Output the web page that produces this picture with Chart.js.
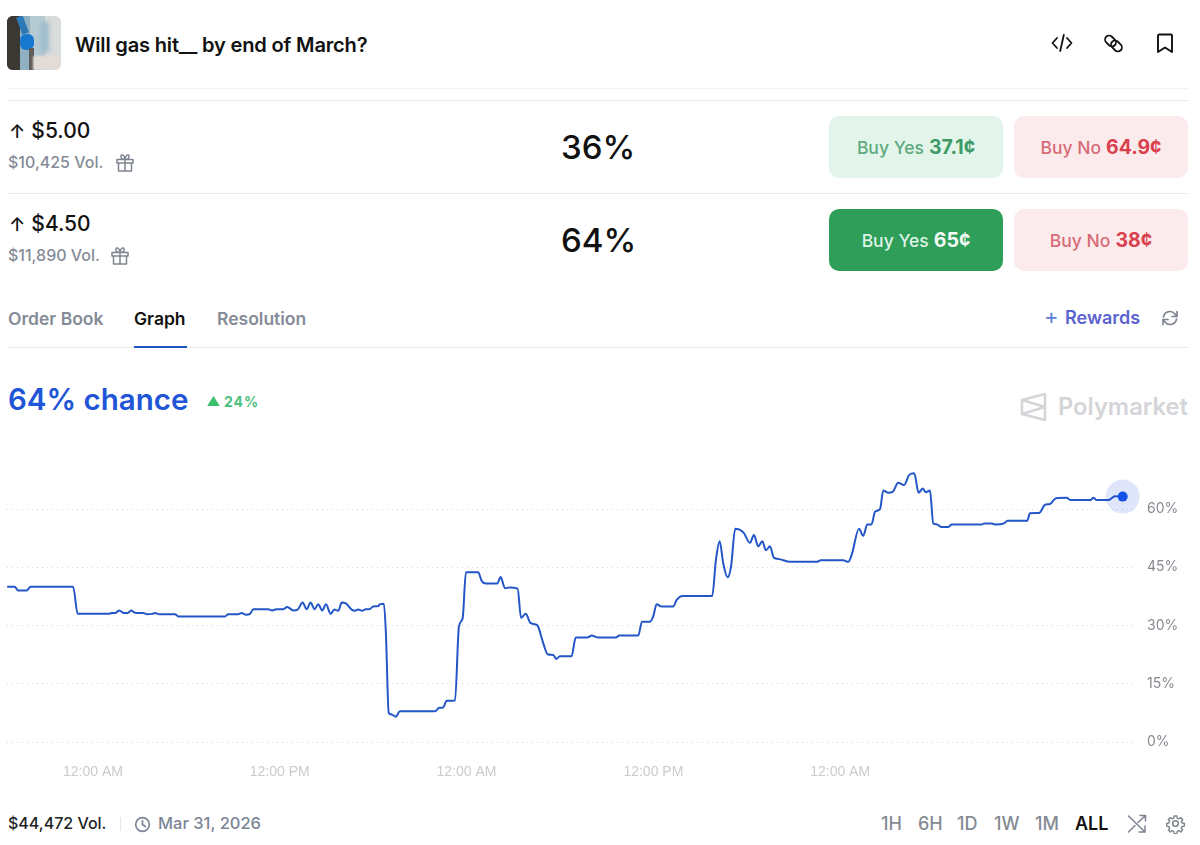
<!DOCTYPE html>
<html>
<head>
<meta charset="utf-8">
<title>Will gas hit__ by end of March?</title>
<script src="https://cdn.jsdelivr.net/npm/chart.js@4"></script>
<style>
html, body { margin: 0; padding: 0; background: #fff; width: 1200px; height: 845px; overflow: hidden; }
body { position: relative; font-family: Inter, "Noto Sans", sans-serif; color: #111; }
.t { position: absolute; white-space: nowrap; transform: translateY(-50%); line-height: 1.2; }
.line { position: absolute; left: 7px; width: 1181px; height: 1px; background: #e6e8ea; }
.btn { position: absolute; width: 174px; height: 62px; border-radius: 10px; display: flex; align-items: center; justify-content: center; font-size: 17.5px; font-weight: 500; }
.btn b { font-size: 19.5px; font-weight: 700; margin-left: 5px; }
.yes { background: #e3f5ea; color: #5fa97f; }
.yes b { color: #3d9a66; }
.no { background: #fbebec; color: #d66b76; }
.no b { color: #d9414f; }
.on { background: #2e9e59; color: #dff3e6; }
.on b { color: #f2faf5; }
.pct { font-size: 33px; font-weight: 500; left: 561px; }
.gray { color: #858b97; }
.rng { font-size: 18px; font-weight: 500; color: #858b94; top: 824px; }
svg { position: absolute; fill: none; }
#thumb { position: absolute; left: 7px; top: 16px; width: 54px; height: 54px; border-radius: 6px; overflow: hidden;
  background: linear-gradient(90deg, #3d3a36 0 24%, #8eb0c0 24% 42%, #b5cad2 42% 70%, #d8dcdb 70%); }
#thumb i { position: absolute; display: block; }
#wrap { position: absolute; left: 0; top: 440px; width: 1200px; height: 350px; }
</style>
</head>
<body>
<div id="thumb">
  <i style="left:0;top:0;width:12px;height:54px;background:#3b3733"></i>
  <i style="left:13px;top:18px;width:14px;height:16px;background:#1778cf;border-radius:6px"></i>
  <i style="left:12px;top:0;width:7px;height:18px;background:#2d79b8;transform:rotate(-20deg)"></i>
  <i style="left:22px;top:32px;width:5px;height:22px;background:#5d5c58"></i>
  <i style="left:34px;top:6px;width:8px;height:30px;background:#9dbccd;filter:blur(2px)"></i>
  <i style="left:26px;top:40px;width:28px;height:14px;background:#e3dcd6;filter:blur(1px)"></i>
</div>
<div class="t" style="left:75px;top:45px;font-size:20.1px;font-weight:600;letter-spacing:-.2px">Will gas hit__ by end of March?</div>

<svg style="left:1051px;top:33px" width="22" height="20" viewBox="0 0 22 20" stroke="#111" stroke-width="1.8" stroke-linecap="round" stroke-linejoin="round"><path d="M6 5 1.500 10 6 15M16 5l4.500 5-4.500 5M12.800 2 9.200 18"/></svg>
<svg style="left:1102px;top:32px" width="23" height="23" viewBox="0 0 23 23" stroke="#111" stroke-width="1.8"><rect x="2.500" y="5" width="12" height="8" rx="4" transform="rotate(45 8.500 9)"/><rect x="8.500" y="10" width="12" height="8" rx="4" transform="rotate(45 14.500 14)"/></svg>
<svg style="left:1156px;top:33px" width="18" height="21" viewBox="0 0 18 21" stroke="#111" stroke-width="1.9" stroke-linejoin="round"><path d="M2 2.500c0-.5.5-1 1-1h12c.5 0 1 .5 1 1V19l-7-4.500L2 19z"/></svg>

<div class="line" style="top:88px;background:#f1f2f3"></div>
<div class="line" style="top:100px"></div>
<div class="line" style="top:193px"></div>

<div class="t" style="left:9px;top:131px;font-size:21px;font-weight:500"><span style="font-size:19px;margin-right:6px">↑</span>$5.00</div>
<div class="t gray" style="left:8px;top:163px;font-size:16px;font-weight:500">$10,425 Vol.</div>
<svg style="left:115px;top:153px" width="20" height="20" viewBox="0 0 20 20" stroke="#7f8590" stroke-width="1.5" stroke-linejoin="round"><path d="M2 6.500h16v3.500H2zM3.500 10v8h13v-8M10 6.500V18M10 6.500C7 6.500 5.500 5 6 3s3.500-1.500 4 3.500c.5-5 3.500-5.500 4-3.500s-1 3.500-4 3.500z"/></svg>
<div class="t pct" style="top:148px">36%</div>
<div class="btn yes" style="left:829px;top:116px">Buy Yes <b>37.1¢</b></div>
<div class="btn no" style="left:1014px;top:116px">Buy No <b>64.9¢</b></div>

<div class="t" style="left:9px;top:224px;font-size:21px;font-weight:500"><span style="font-size:19px;margin-right:6px">↑</span>$4.50</div>
<div class="t gray" style="left:8px;top:256px;font-size:16px;font-weight:500">$11,890 Vol.</div>
<svg style="left:110px;top:246px" width="20" height="20" viewBox="0 0 20 20" stroke="#7f8590" stroke-width="1.5" stroke-linejoin="round"><path d="M2 6.500h16v3.500H2zM3.500 10v8h13v-8M10 6.500V18M10 6.500C7 6.500 5.500 5 6 3s3.500-1.500 4 3.500c.5-5 3.500-5.500 4-3.500s-1 3.500-4 3.500z"/></svg>
<div class="t pct" style="top:241px">64%</div>
<div class="btn on" style="left:829px;top:209px">Buy Yes <b>65¢</b></div>
<div class="btn no" style="left:1014px;top:209px">Buy No <b>38¢</b></div>

<div class="t gray" style="left:8px;top:317.500px;font-size:17.5px;font-weight:600">Order Book</div>
<div class="t" style="left:134px;top:317.500px;font-size:17.5px;font-weight:600">Graph</div>
<div class="t gray" style="left:217px;top:317.500px;font-size:17.5px;font-weight:600">Resolution</div>
<div class="t" style="left:1044px;top:316px;font-size:22px;font-weight:400;color:#5a80d8">+</div>
<div class="t" style="left:1065px;top:318px;font-size:18px;font-weight:600;color:#5b63cf">Rewards</div>
<svg style="left:1161px;top:309px" width="18" height="18" viewBox="0 0 18 18" stroke="#7f8590" stroke-width="1.7" stroke-linecap="round" stroke-linejoin="round"><path d="M2.500 8a6.500 6.500 0 0 1 11.500-3l2 2.500M16 2.500v5h-5M15.500 10A6.500 6.500 0 0 1 4 13l-2-2.500M2 15.500v-5h5"/></svg>
<div class="line" style="top:347px"></div>
<div style="position:absolute;left:134px;top:346px;width:53px;height:2px;background:#2052c8"></div>

<div class="t" style="left:8px;top:399.500px;font-size:29.5px;font-weight:600;color:#1f55d6">64% chance</div>
<svg style="left:207px;top:395px" width="13" height="12" viewBox="0 0 13 12"><path d="M6.500 1 12.500 10.500Q12.800 11 12 11H1Q.2 11 .5 10.500z" fill="#3cc06f"/></svg>
<div class="t" style="left:224px;top:402px;font-size:14px;font-weight:700;letter-spacing:1px;color:#4cc17c">24%</div>

<svg style="left:1020px;top:392px" width="27" height="30" viewBox="0 0 27 30" stroke="#d3d5d8" stroke-width="2.600" stroke-linejoin="round"><path d="M25 2 2 8v14l23 6zM2 8l23 7M2 22l23-7"/></svg>
<div class="t" style="left:1058px;top:407px;font-size:23.700px;font-weight:600;color:#d3d5d8">Polymarket</div>

<div id="wrap"><canvas id="lineChart"></canvas></div>

<div class="t" style="left:8px;top:824px;font-size:16px;font-weight:500;color:#222">$44,472 Vol.</div>
<div style="position:absolute;left:120px;top:817px;width:1px;height:14px;background:#e2e4e7"></div>
<svg style="left:134px;top:816px" width="17" height="17" viewBox="0 0 17 17" stroke="#7c8596" stroke-width="1.700" stroke-linecap="round"><circle cx="8.500" cy="8.500" r="6.800"/><path d="M8.500 4.500v4l2.800 2"/></svg>
<div class="t" style="left:158px;top:824px;font-size:16.500px;color:#7c8596;font-weight:500">Mar 31, 2026</div>

<div class="t rng" style="left:881px">1H</div>
<div class="t rng" style="left:918px">6H</div>
<div class="t rng" style="left:957px">1D</div>
<div class="t rng" style="left:994px">1W</div>
<div class="t rng" style="left:1035px">1M</div>
<div class="t rng" style="left:1075px;color:#111;font-weight:600">ALL</div>
<svg style="left:1127px;top:813px" width="21" height="21" viewBox="0 0 21 21" stroke="#7f8590" stroke-width="1.500" stroke-linecap="round"><path d="M1.500 3 18 19M18 13v6h-6M1.500 19 8 12.500M11 9.500 18 3M13 2.500h5.500V8"/></svg>
<svg style="left:1165px;top:813px" width="21" height="21" viewBox="0 0 24 24" stroke="#7f8590" stroke-width="1.800" stroke-linejoin="round"><circle cx="12" cy="12" r="3.200"/><path d="M10.300 2.500h3.400l.5 2.800 2 .9 2.400-1.600 2.400 2.400-1.600 2.400.9 2 2.800.5v3.400l-2.800.5-.9 2 1.600 2.400-2.400 2.400-2.400-1.600-2 .9-.5 2.800h-3.400l-.5-2.800-2-.9-2.400 1.600-2.400-2.400 1.600-2.400-.9-2-2.800-.5v-3.400l2.800-.5.9-2-1.600-2.400 2.400-2.400 2.400 1.600 2-.9z" transform="translate(1.100 1.100) scale(.91)"/></svg>

<script>
// hours counted from the first midnight on the axis
var hours = [-5.51,-5.03,-4.80,-4.26,-4.00,-1.27,-0.98,0.98,1.20,1.48,1.69,1.99,2.27,2.44,2.70,3.23,3.49,3.81,4.00,4.26,5.27,5.52,8.48,8.69,9.33,9.55,9.83,10.09,10.30,11.26,11.52,11.80,12.23,12.48,12.87,13.15,13.47,13.73,13.98,14.24,14.47,14.73,14.97,15.27,15.50,15.76,15.98,16.25,16.62,16.83,17.04,17.30,17.52,17.75,18.01,18.33,18.44,18.69,18.82,19.00,19.19,19.45,19.72,21.97,22.25,22.50,22.72,23.26,23.51,23.75,23.96,24.75,24.97,25.25,25.97,26.19,26.47,26.74,27.28,27.50,27.80,28.12,28.54,28.93,29.21,29.57,29.76,30.00,30.75,31.01,31.75,32.04,32.46,33.60,33.81,35.03,35.27,35.78,35.99,36.21,36.53,37.28,37.50,37.88,39.78,40.02,40.26,40.49,40.77,40.99,41.26,41.78,42.21,42.46,42.74,43.00,43.23,43.49,43.75,44.09,44.78,46.49,46.75,48.20,48.52,48.74,49.21,49.48,49.74,50.02,50.24,50.56,50.77,51.09,51.37,51.73,52.10,52.44,52.76,53.04,53.30,53.51,53.77,53.98,54.20,54.48,54.95,55.16,57.09,57.24,57.73,58.01,58.52,58.76,60.02,60.19,60.79,61.16,61.48,61.86,62.55,62.81,64.09,64.26,64.48,65.22,65.65,66.15];
var chance = [40,40,39,39,40,40,33,33,33.2,33.3,33.9,33.2,33.3,33.9,33.3,33.2,32.9,33,33.2,32.9,32.9,32.3,32.3,32.9,32.9,33.2,32.8,33,34.2,34.2,33.9,34.2,34.2,34.8,33.9,34.1,35.9,34.2,35.9,34.2,35.5,33.9,35.5,33,34.1,33.8,35.9,35.7,34.1,33.8,34.1,33.8,34.2,34.2,34.9,35,35.5,35.6,28,7.5,7.1,6.5,7.9,7.9,8.8,8.9,10.6,10.7,29.7,31.9,43.7,43.7,41.5,40.8,40.8,42.5,39.6,39.8,39.5,32,33,30.6,30.1,25.4,22.6,22.4,21.4,22.1,22.1,26.9,26.9,27.4,26.9,26.9,27.4,27.4,31,31,32.3,35.5,34.9,34.9,36.6,37.6,37.6,46.9,51.7,46,42.4,45.2,54.9,54,51.3,53.3,50.4,51.7,49.4,50.4,47.4,47.1,46.4,46.4,46.8,46.8,46.4,48.2,54.9,53.1,56,56.1,59.3,60,64.8,64.2,64.4,66.8,66.2,68.8,69.2,64.2,65.3,64.3,64.8,56.3,56.1,55.4,55.4,56,56,56.3,56.3,56,56.3,57,57,58.9,59,61.1,61.3,62.8,62.9,62.3,62.3,62.9,62.3,62.3,63.3,63.2];
var xTickHours = [0, 12, 24, 36, 48];
var xTickLabels = ["12:00 AM", "12:00 PM", "12:00 AM", "12:00 PM", "12:00 AM"];
var yTickValues = [0, 15, 30, 45, 60];

var points = hours.map(function (h, i) { return { x: h, y: chance[i] }; });
var lastPoint = [points[points.length - 1]];

var ctx = document.getElementById("lineChart").getContext("2d");
new Chart(ctx, {
    type: "line",
    data: {
        datasets: [
            // halo and dot on the latest value
            { data: lastPoint, pointRadius: 5, pointBackgroundColor: "#1551e8", pointBorderWidth: 0, showLine: false, clip: false, order: 0 },
            { data: lastPoint, pointRadius: 17, pointBackgroundColor: "rgba(40,90,225,0.15)", pointBorderWidth: 0, showLine: false, clip: false, order: 2 },
            { data: points, borderColor: "#2356c6", borderWidth: 2, pointRadius: 0, cubicInterpolationMode: "monotone", order: 1 }
        ]
    },
    options: {
        responsive: true,
        maintainAspectRatio: false,
        animation: false,
        // the big halo point would otherwise push the plot inwards
        layout: { autoPadding: false, padding: { left: 7, top: 10.8, right: 0, bottom: 0 } },
        plugins: { legend: { display: false }, tooltip: { enabled: false } },
        scales: {
            x: {
                type: "linear",
                min: -5.52,
                max: 66.94,
                grid: { display: false },
                border: { display: false },
                afterBuildTicks: function (scale) {
                    scale.ticks = xTickHours.map(function (v) { return { value: v }; });
                },
                afterFit: function (scale) {
                    scale.height = 48;
                    scale.paddingLeft = 0;
                    scale.paddingRight = 0;
                },
                ticks: {
                    autoSkip: false,
                    maxRotation: 0,
                    padding: 14,
                    color: "#c9cbcd",
                    font: { family: "Liberation Sans", size: 14 },
                    callback: function (v) { return xTickLabels[xTickHours.indexOf(v)]; }
                }
            },
            y: {
                position: "right",
                min: 0,
                max: 75,
                grid: { color: "#d6d9dc", drawTicks: false },
                border: { display: false, dash: [1, 4] },
                afterBuildTicks: function (scale) {
                    scale.ticks = yTickValues.map(function (v) { return { value: v }; });
                },
                afterFit: function (scale) {
                    scale.width = 65;
                    scale.paddingTop = 0;
                    scale.paddingBottom = 0;
                },
                ticks: {
                    padding: 12,
                    color: "#858a90",
                    font: { family: "Inter", size: 14 },
                    callback: function (v) { return v + "%"; }
                }
            }
        }
    }
});
</script>
</body>
</html>
